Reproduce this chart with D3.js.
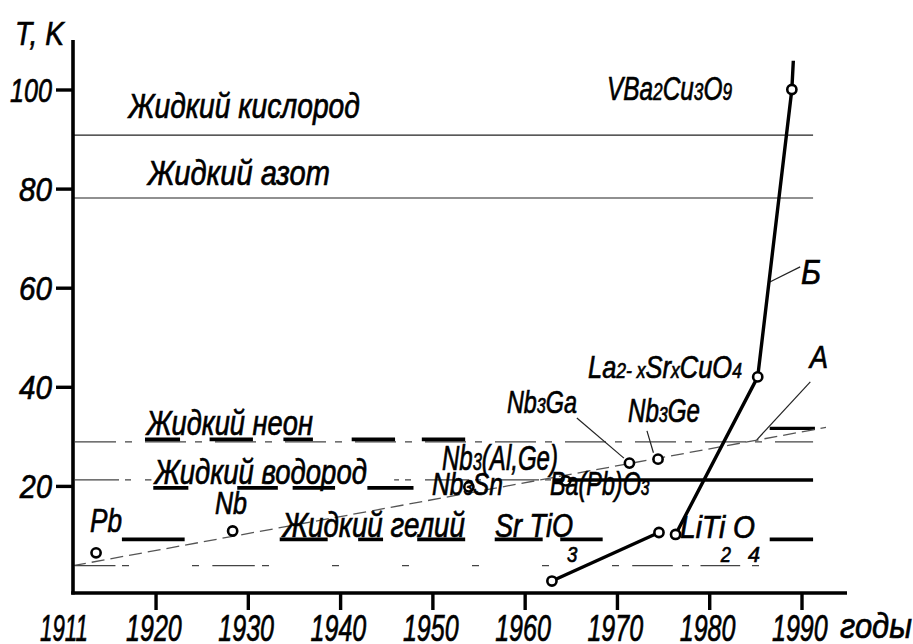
<!DOCTYPE html>
<html><head><meta charset="utf-8">
<script src="https://cdn.jsdelivr.net/npm/d3@7"></script>
<style>
html,body{margin:0;padding:0;background:#fff;}
svg{display:block;}
text{font-family:"Liberation Sans", Arial, sans-serif;font-style:italic;fill:#000;stroke:#000;stroke-width:0.7px;}
</style>
</head><body>
<svg id="chart" width="913" height="644"></svg>
<script>
// ---------------- DATA ----------------
const originYear = 1911;
const xTickYears = [1920, 1930, 1940, 1950, 1960, 1970, 1980, 1990];
const xTickLabels = ["1920", "1930", "1940", "1950", "1960", "1970", "1980", "1990"];
const yTickValues = [20, 40, 60, 80, 100];
const yTickLabels = ["20", "40", "60", "80", "100"];

// temperature levels of liquefied gases (K)
const solidLevelNames = ["Жидкий кислород", "Жидкий азот"];
const solidLevelT = [90.9, 78.2];
const neonT = 29.0, hydrogenT = 21.3, heliumT = 4.0;

// thick underline segments [from year, to year]
const neonBars = [[1918.8, 1922.6], [1925.8, 1930.5], [1933.8, 1937.0], [1941.2, 1945.9], [1948.8, 1953.5]];
const neonBarT = 29.5;
const hydrogenBars = [[1919.7, 1923.5], [1928.8, 1933.2], [1934.8, 1939.4], [1942.9, 1947.9]];
const hydrogenBarT = 19.7;
const hydrogenSolid = [1963.0, 1991.2];
const heliumBars = [[1916.3, 1923.1], [1933.4, 1938.6], [1941.9, 1944.6], [1948.3, 1953.5], [1956.7, 1961.9], [1963.8, 1968.4], [1986.5, 1991.2]];
const heliumBarT = 9.3;
const heliumLongDashes = [[1911.2, 1915.6], [1926.1, 1930.7], [1971.6, 1976.0], [1979.0, 1983.3]];
const neonRange = [1911, 1991.2];
const hydrogenThinRanges = [[1911, 1919.5], [1945.8, 1963.0]];
const heliumRange = [1911, 1985.7];
const markBarA = [1986.5, 1991.4], markBarAT = 31.7;

// superconductors: discovery year and critical temperature (K)
const materials = ["Pb", "Nb", "Nb3Sn", "Ba(Pb)O3", "Nb3Ga", "Nb3Ge", "SrTiO3", "BaPbBiO3", "LiTi2O4", "La2-xSrxCuO4", "YBa2Cu3O9"];
const matYear = [1913.5, 1928.3, 1953.9, 1964.4, 1971.3, 1974.4, 1962.9, 1974.5, 1976.3, 1985.2, 1988.9];
const matT = [6.6, 11.0, 19.9, 21.1, 24.7, 25.5, 0.9, 10.7, 10.3, 42.1, 100.1];

// curve A (intermetallic trend) and curve Б (oxides)
const curveA = [[1911.0, 4.0], [1992.6, 31.9]];
const curveB1 = [[1962.9, 0.9], [1974.5, 10.7]];
const curveB2 = [[1976.3, 10.3], [1985.2, 42.1], [1988.9, 100.1], [1989.06, 105.9]];

// leader lines [[year,T],[year,T]]
const leaders = [
  [[1990.9, 41.1], [1985.1, 29.4]],   // A
  [[1989.8, 64.3], [1986.35, 61.1]],  // Б
  [[1965.6, 33.8], [1970.7, 25.7]],   // Nb3Ga
  [[1973.2, 31.2], [1973.9, 26.8]]    // Nb3Ge
];

// ---------------- SCALES ----------------
const svg = d3.select("#chart");
const x = d3.scaleLinear().domain([originYear, 1990]).range([73, 802]);
const y = d3.scaleLinear().domain([0, 100]).range([585.5, 90]);
const axisY = 593, axisTopY = 40, axisRightX = 847;

const hline = (x0, x1, T) => svg.append("line")
  .attr("x1", x(x0)).attr("x2", x(x1)).attr("y1", y(T)).attr("y2", y(T));

// solid thin levels
solidLevelT.forEach(T => hline(originYear, 1991.2, T).attr("stroke", "#222").attr("stroke-width", 1.2));

// dash-dot helper: pattern anchored to x=75, period 70px
function dashDot(x0, x1, T, arr) {
  const s = x(x0);
  const period = arr.reduce((a, b) => a + b, 0);
  const off = (((s - 75) % period) + period) % period;
  hline(x0, x1, T).attr("stroke", "#444").attr("stroke-width", 1.2)
    .attr("stroke-dasharray", arr.join(",")).attr("stroke-dashoffset", off);
}
dashDot(neonRange[0], neonRange[1], neonT, [41, 9, 7, 13]);
hydrogenThinRanges.forEach(r => dashDot(r[0], r[1], hydrogenT, [44, 6, 6, 14]));
// helium: short dashes everywhere + only some long dashes
(function () {
  const s = x(heliumRange[0]);
  const off = (((s - 122) % 70) + 70) % 70;
  hline(heliumRange[0], heliumRange[1], heliumT).attr("stroke", "#444").attr("stroke-width", 1.2)
    .attr("stroke-dasharray", "7,63").attr("stroke-dashoffset", off);
})();
heliumLongDashes.forEach(r => hline(r[0], r[1], heliumT).attr("stroke", "#444").attr("stroke-width", 1.2));

// thick underline bars
neonBars.forEach(r => hline(r[0], r[1], neonBarT).attr("stroke", "#000").attr("stroke-width", 3.6));
hydrogenBars.forEach(r => hline(r[0], r[1], hydrogenBarT).attr("stroke", "#000").attr("stroke-width", 3.6));
hline(hydrogenSolid[0], hydrogenSolid[1], hydrogenT).attr("stroke", "#000").attr("stroke-width", 3.6);
heliumBars.forEach(r => hline(r[0], r[1], heliumBarT).attr("stroke", "#000").attr("stroke-width", 3.6));
hline(markBarA[0], markBarA[1], markBarAT).attr("stroke", "#000").attr("stroke-width", 3.2);

// curve A (dashed)
const line = d3.line().x(d => x(d[0])).y(d => y(d[1]));
svg.append("path").attr("d", line(curveA)).attr("fill", "none")
  .attr("stroke", "#555").attr("stroke-width", 1.3).attr("stroke-dasharray", "13,6");

// leaders
leaders.forEach(l => svg.append("path").attr("d", line(l)).attr("fill", "none")
  .attr("stroke", "#222").attr("stroke-width", 1.2));

// curve Б
[curveB1, curveB2].forEach(c => svg.append("path").attr("d", line(c)).attr("fill", "none")
  .attr("stroke", "#000").attr("stroke-width", 3.4).attr("stroke-linejoin", "round"));

// axes
svg.append("line").attr("x1", x(originYear)).attr("x2", x(originYear)).attr("y1", axisTopY).attr("y2", axisY + 1.5)
  .attr("stroke", "#000").attr("stroke-width", 3.6);
svg.append("line").attr("x1", x(originYear) - 1.8).attr("x2", axisRightX).attr("y1", axisY).attr("y2", axisY)
  .attr("stroke", "#000").attr("stroke-width", 3.6);
yTickValues.forEach(v => svg.append("line").attr("x1", x(originYear) - 17).attr("x2", x(originYear))
  .attr("y1", y(v)).attr("y2", y(v)).attr("stroke", "#000").attr("stroke-width", 3.4));
xTickYears.forEach(v => svg.append("line").attr("x1", x(v)).attr("x2", x(v))
  .attr("y1", axisY).attr("y2", axisY + 17).attr("stroke", "#000").attr("stroke-width", 3.4));

// points
svg.selectAll("circle.pt").data(materials).enter().append("circle")
  .attr("cx", (d, i) => x(matYear[i])).attr("cy", (d, i) => y(matT[i])).attr("r", 4.6)
  .attr("fill", "#fff").attr("stroke", "#000").attr("stroke-width", 2.6);

// ---------------- TEXT ----------------
function addLabel(parts, x0, x1, base, size, sub) {
  const g = svg.append("g");
  const t = g.append("text").attr("font-size", size);
  parts.forEach(p => {
    const ts = t.append("tspan").text(p[0]);
    if (p[1]) ts.attr("font-size", sub);
  });
  const bb = t.node().getBBox();
  const sx = (x1 - x0) / bb.width;
  g.attr("transform", `translate(${x0 - bb.x * sx},${base}) scale(${sx},1)`);
}
const P = s => [[s, false]];

addLabel(P("T, K"), 15, 65, 45, 34);
yTickValues.forEach((v, i) => {
  const w = yTickLabels[i].length === 3 ? 42 : 33;
  addLabel(P(yTickLabels[i]), 52 - w, 52, y(v) + 12, 34);
});
addLabel(P("1911"), 40, 88, 641, 37);
xTickYears.forEach((v, i) => addLabel(P(xTickLabels[i]), x(v) - 30, x(v) + 26, 641, 37));
addLabel(P("годы"), 840, 912, 638, 36);

addLabel(P("Жидкий кислород"), 127, 360, 118, 35);
addLabel(P("Жидкий азот"), 146, 330, 185, 35);
addLabel(P("Жидкий неон"), 145, 313, 435, 35);
addLabel(P("Жидкий водород"), 153, 367, 484, 35);
addLabel(P("Жидкий гелий"), 281, 465, 537, 35);
addLabel([["VBa", false], ["2", true], ["Cu", false], ["3", true], ["O", false], ["9", true]], 607, 732, 100, 34, 24);
addLabel(P("Pb"), 90, 122, 532, 34);
addLabel(P("Nb"), 215, 247, 514, 31);
addLabel(P("Sr TiO"), 495, 573, 537, 33);
addLabel(P("3"), 567, 578, 562, 22);
addLabel(P("LiTi O"), 680, 755, 538, 31);
addLabel(P("2"), 720, 731, 562, 22);
addLabel(P("4"), 748, 760, 562, 22);
addLabel([["Nb", false], ["3", true], ["Ga", false]], 507, 577, 413, 32, 22);
addLabel([["Nb", false], ["3", true], ["Ge", false]], 628, 700, 422, 33, 22);
addLabel([["La", false], ["2- x", true], ["Sr", false], ["x", true], ["CuO", false], ["4", true]], 588, 742, 378, 32, 22);
addLabel([["Nb", false], ["3", true], ["(Al,Ge)", false]], 442, 558, 470, 35, 24);
addLabel([["Nb", false], ["3", true], ["Sn", false]], 432, 503, 495, 32, 22);
addLabel([["Ba(Pb)O", false], ["3", true]], 550, 650, 495, 33, 22);
addLabel(P("Б"), 801, 821, 284, 35);
addLabel(P("A"), 808, 828, 368, 32);
</script>
</body></html>
